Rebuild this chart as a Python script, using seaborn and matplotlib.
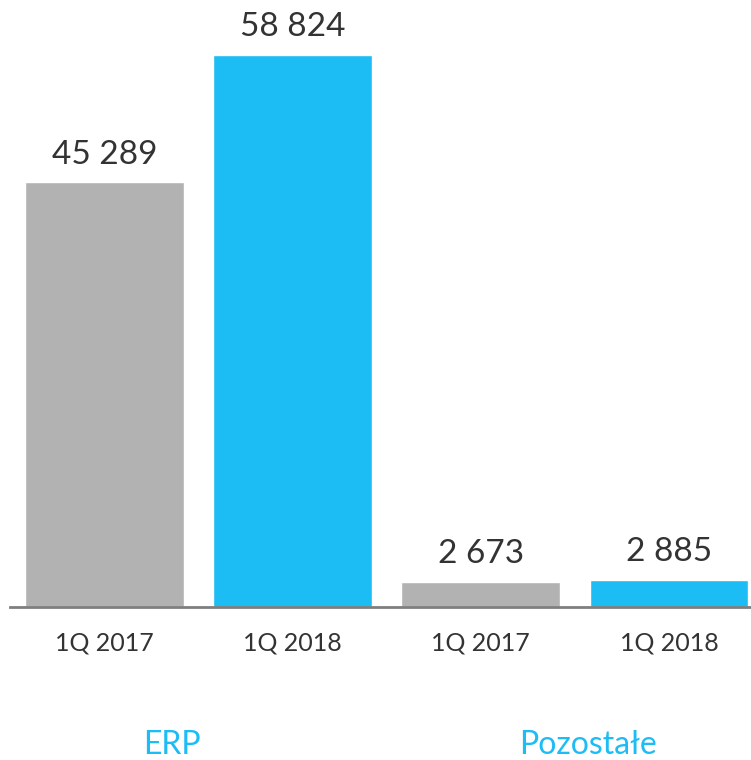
import matplotlib
matplotlib.use('Agg')
import pandas as pd
import matplotlib.pyplot as plt
import seaborn as sns

# data
bar_ids = ['erp_2017', 'erp_2018', 'poz_2017', 'poz_2018']
tick_labels = ['1Q 2017', '1Q 2018', '1Q 2017', '1Q 2018']
values = [45289, 58824, 2673, 2885]
years = ['2017', '2018', '2017', '2018']
groups = ['ERP', 'Pozostałe']
group_pos = [0.36, 2.57]

GRAY = '#B2B2B2'
BLUE = '#1CBCF5'
TEXT = '#333333'

sns.set_theme(style='white')
plt.rcParams['font.family'] = ['Lato', 'DejaVu Sans']

df = pd.DataFrame({'bar': bar_ids, 'value': values, 'year': years})

fig = plt.figure(figsize=(7.51, 7.60), dpi=100)
ax = fig.add_axes([10 / 751, 153 / 760, 741 / 751, 607 / 760])

sns.barplot(data=df, x='bar', y='value', hue='year', order=bar_ids,
            palette={'2017': GRAY, '2018': BLUE}, dodge=False,
            width=0.845, saturation=1, legend=False, ax=ax)

# value labels above bars (patches come grouped by hue, so sort by x)
patches = sorted(ax.patches, key=lambda p: p.get_x())
for patch in patches:
    v = int(round(patch.get_height()))
    ax.annotate(f'{v:,}'.replace(',', ' '),
                (patch.get_x() + patch.get_width() / 2, patch.get_height()),
                xytext=(0, 9), textcoords='offset points',
                ha='center', va='bottom', fontsize=24, color=TEXT)

ax.set_xlim(-0.503, 3.436)
ax.set_ylim(0, 64684)
ax.set_xticks(range(len(tick_labels)))
ax.set_xticklabels(tick_labels, fontsize=18, color=TEXT)
ax.tick_params(axis='x', length=0, pad=18)
ax.set_yticks([])
ax.set_xlabel('')
ax.set_ylabel('')

for side in ['top', 'right', 'left']:
    ax.spines[side].set_visible(False)
ax.spines['bottom'].set_color('#7F7F7F')
ax.spines['bottom'].set_linewidth(2)

# group labels under the ticks
for name, pos in zip(groups, group_pos):
    ax.annotate(name, (pos, 0), xycoords=('data', 'axes fraction'),
                xytext=(0, -138), textcoords='offset pixels',
                ha='center', va='center', fontsize=23, color=BLUE)

plt.savefig('out.png', dpi=100)
plt.close()
